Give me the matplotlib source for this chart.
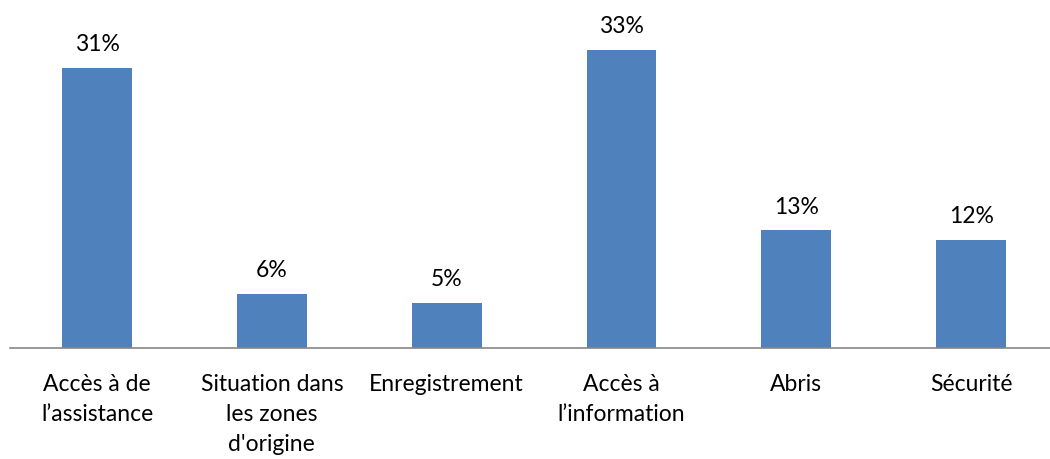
import matplotlib
matplotlib.use('Agg')
import matplotlib.pyplot as plt
import numpy as np

categories = ["Accès à de\nl\u2019assistance", "Situation dans\nles zones\nd'origine", "Enregistrement",
              "Accès à\nl\u2019information", "Abris", "Sécurité"]
values = [31, 6, 5, 33, 13, 12]
value_labels = ["31%", "6%", "5%", "33%", "13%", "12%"]

plt.rcParams['font.family'] = ['Lato', 'DejaVu Sans']

fig = plt.figure(figsize=(10.5, 4.6), dpi=100)
# axis line runs off the right edge like in the original
ax = fig.add_axes([9.6 / 1050, 111 / 460, 1049 / 1050, 349 / 460])

x = np.arange(len(categories))
bars = ax.bar(x, values, width=0.4, color='#4F81BD')
for b, lab in zip(bars, value_labels):
    ax.annotate(lab, (b.get_x() + b.get_width() / 2, b.get_height()), xytext=(0, 10),
                textcoords='offset points', ha='center', va='bottom', fontsize=16.5)

ax.set_xlim(-0.5, len(categories) - 0.5)
ax.set_ylim(0, 38.6)
ax.set_xticks(x)
ax.set_xticklabels(categories, fontsize=16.5, va='top', linespacing=1.52)
ax.tick_params(axis='x', length=0, pad=18)
ax.set_yticks([])
for s in ['top', 'right', 'left']:
    ax.spines[s].set_visible(False)
ax.spines['bottom'].set_color('#868686')
ax.spines['bottom'].set_linewidth(1.2)

fig.savefig('out.png', dpi=100)
